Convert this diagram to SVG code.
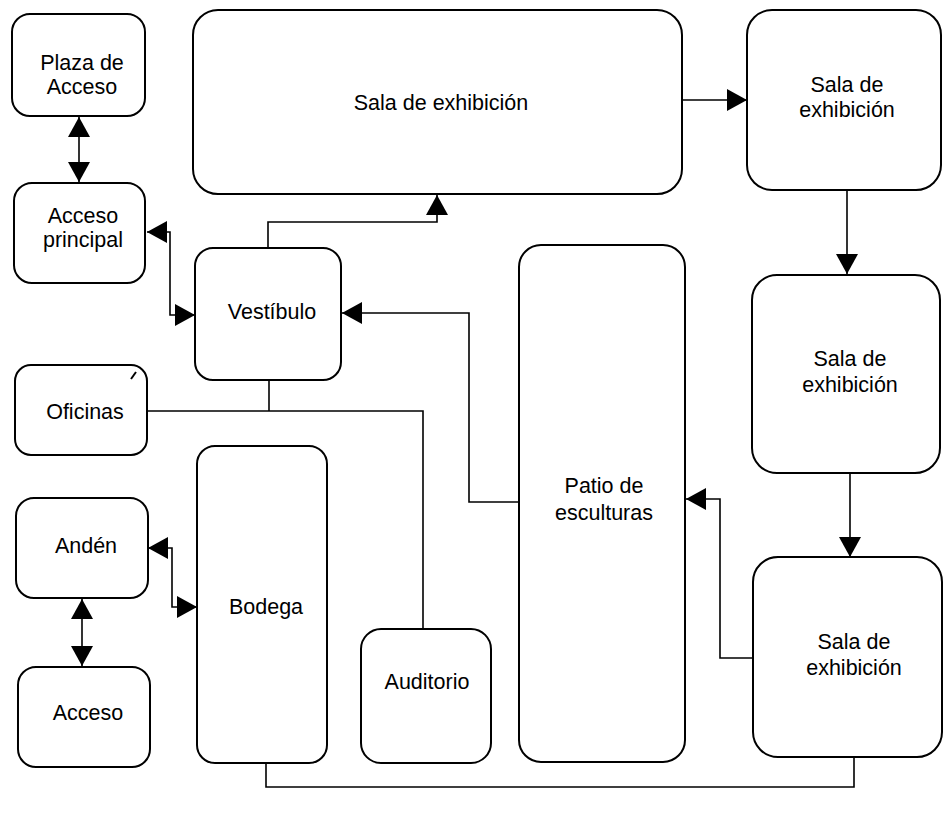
<svg xmlns="http://www.w3.org/2000/svg" width="943" height="816" viewBox="0 0 943 816">
<style>
.box{fill:#fff;stroke:#000;stroke-width:2}
.lbl{font-family:"Liberation Sans",Arial,sans-serif;font-size:21.5px;fill:#000;text-anchor:middle}
.con{fill:none;stroke:#000;stroke-width:1.6}
</style>
<defs>
<marker id="ah" markerUnits="userSpaceOnUse" markerWidth="20" markerHeight="22" refX="20" refY="11" orient="auto-start-reverse" viewBox="0 0 20 22">
<path d="M0,0 L20,11 L0,22 z" fill="#000"/>
</marker>
</defs>
<rect width="943" height="816" fill="#fff"/>
<g id="connectors">
<path class="con" d="M79,117 V182" marker-start="url(#ah)" marker-end="url(#ah)"/>
<path class="con" d="M147,232 H170 V315 H195" marker-start="url(#ah)" marker-end="url(#ah)"/>
<path class="con" d="M268,248 V222 H437 V195" marker-end="url(#ah)"/>
<path class="con" d="M682,100 H747" marker-end="url(#ah)"/>
<path class="con" d="M847,190 V274" marker-end="url(#ah)"/>
<path class="con" d="M850,473 V557" marker-end="url(#ah)"/>
<path class="con" d="M519,502 H469 V313 H342" marker-end="url(#ah)"/>
<path class="con" d="M753,658 H720 V499 H686" marker-end="url(#ah)"/>
<path class="con" d="M147,411 H423 V629"/>
<path class="con" d="M269,380 V411"/>
<path class="con" d="M148,548 H172 V607 H197" marker-start="url(#ah)" marker-end="url(#ah)"/>
<path class="con" d="M82,599 V666" marker-start="url(#ah)" marker-end="url(#ah)"/>
<path class="con" d="M266,763 V787 H854 V757"/>
</g>
<g id="plaza-acceso">
<rect class="box" x="12" y="14" width="133" height="102" rx="18"/>
<text class="lbl" x="82" y="70">Plaza de</text>
<text class="lbl" x="82" y="94">Acceso</text>
</g>
<g id="acceso-principal">
<rect class="box" x="14" y="183" width="131" height="100" rx="18"/>
<text class="lbl" x="83" y="223">Acceso</text>
<text class="lbl" x="83" y="247">principal</text>
</g>
<g id="vestibulo">
<rect class="box" x="195" y="248" width="146" height="132" rx="18"/>
<text class="lbl" x="272" y="319">Vestíbulo</text>
</g>
<g id="oficinas">
<rect class="box" x="15" y="365" width="132" height="90" rx="16"/>
<text class="lbl" x="85" y="419">Oficinas</text>
<path d="M131,379 L136,372" stroke="#000" stroke-width="2"/>
</g>
<g id="anden">
<rect class="box" x="16" y="498" width="132" height="100" rx="18"/>
<text class="lbl" x="86" y="553">Andén</text>
</g>
<g id="acceso">
<rect class="box" x="18" y="667" width="132" height="100" rx="18"/>
<text class="lbl" x="88" y="720">Acceso</text>
</g>
<g id="bodega">
<rect class="box" x="197" y="446" width="130" height="317" rx="18"/>
<text class="lbl" x="266" y="614">Bodega</text>
</g>
<g id="auditorio">
<rect class="box" x="361" y="629" width="130" height="134" rx="20"/>
<text class="lbl" x="427" y="689">Auditorio</text>
</g>
<g id="patio">
<rect class="box" x="519" y="245" width="166" height="517" rx="22"/>
<text class="lbl" x="604" y="493">Patio de</text>
<text class="lbl" x="604" y="520">esculturas</text>
</g>
<g id="sala-1">
<rect class="box" x="193" y="10" width="489" height="184" rx="25"/>
<text class="lbl" x="441" y="110">Sala de exhibición</text>
</g>
<g id="sala-2">
<rect class="box" x="747" y="10" width="194" height="180" rx="25"/>
<text class="lbl" x="847" y="92">Sala de</text>
<text class="lbl" x="847" y="117">exhibición</text>
</g>
<g id="sala-3">
<rect class="box" x="752" y="275" width="188" height="198" rx="25"/>
<text class="lbl" x="850" y="366">Sala de</text>
<text class="lbl" x="850" y="392">exhibición</text>
</g>
<g id="sala-4">
<rect class="box" x="753" y="557" width="189" height="200" rx="25"/>
<text class="lbl" x="854" y="649">Sala de</text>
<text class="lbl" x="854" y="675">exhibición</text>
</g>
</svg>
